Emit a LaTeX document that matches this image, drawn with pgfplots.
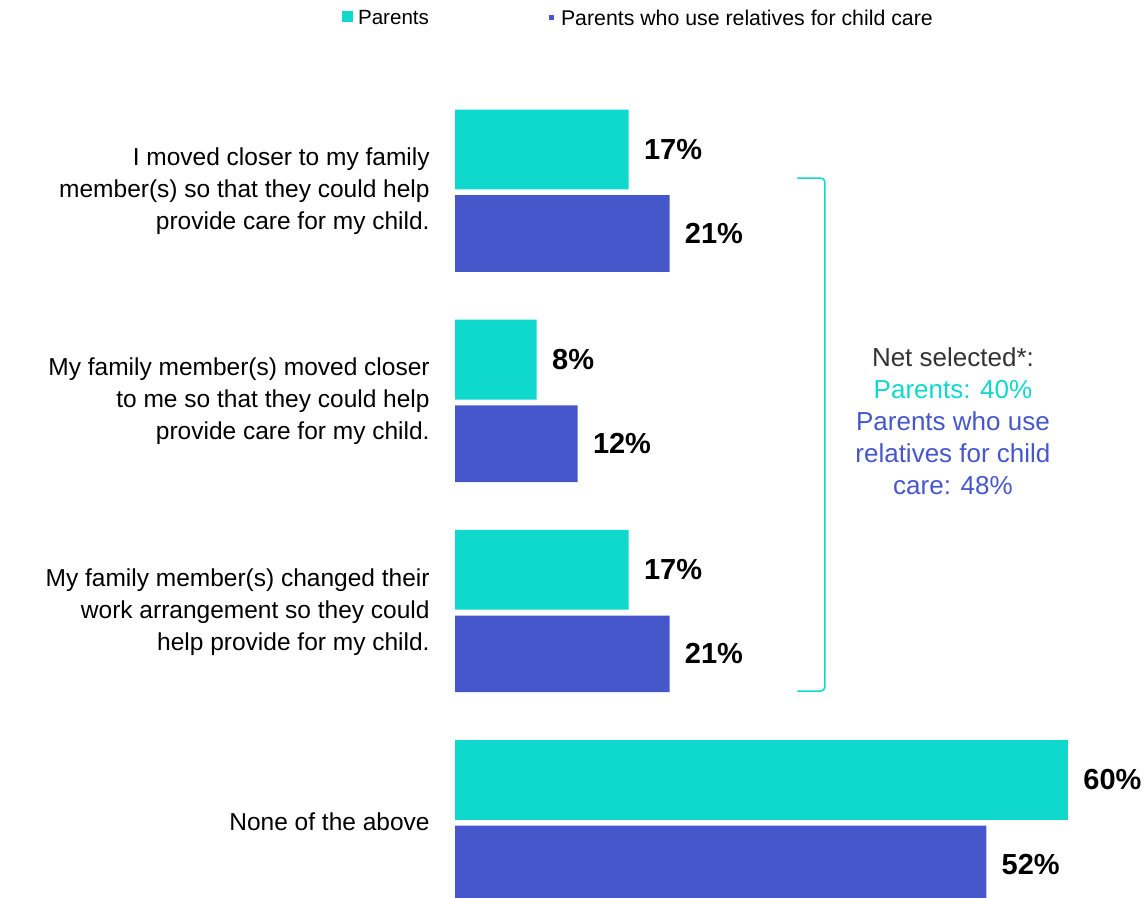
\documentclass[border=0pt]{standalone}
\usepackage{fontspec}
\setmainfont{Liberation Sans}
\usepackage{pgfplots}
\pgfplotsset{compat=1.18}
\definecolor{parteal}{HTML}{0FD8CD}
\definecolor{relblue}{HTML}{4657CC}
\definecolor{netgray}{HTML}{333333}

\begin{document}
\begin{tikzpicture}
\useasboundingbox (0,0) rectangle (572.5pt,449pt);
\begin{axis}[
    at={(227.5pt,405.8pt)}, anchor=north west,
    xbar,
    scale only axis,
    width=306.5pt, height=420.35pt,
    xmin=0, xmax=60, ymin=-0.5, ymax=3.5,
    y dir=reverse,
    clip=false,
    axis line style={draw=none},
    major tick length=0pt,
    xtick=\empty,
    ytick={0,1,2,3},
    yticklabels={{I moved closer to my family\\member(s) so that they could help\\provide care for my child.},
                 {My family member(s) moved closer\\to me so that they could help\\provide care for my child.},
                 {My family member(s) changed their\\work arrangement so they could\\help provide for my child.},
                 {None of the above}},
    yticklabel style={font=\fontsize{12.25pt}{16pt}\selectfont, align=right, inner sep=0pt, xshift=-12.5pt, text=black},
    /pgf/number format/assume math mode=true,
    point meta=x,
    nodes near coords={\pgfmathprintnumber{\pgfplotspointmeta}\%},
    nodes near coords style={anchor=west, inner sep=0pt, xshift=7.5pt,
        font=\fontsize{14.5pt}{17pt}\selectfont\bfseries, text=black},
    legend columns=2,
    legend style={at={(axis description cs:-0.1843,1.0801)}, anchor=west,
        draw=none, fill=none, inner sep=0pt,
        font=\fontsize{10.3pt}{12pt}\selectfont,
        nodes={inner sep=0pt},
        /tikz/every odd column/.append style={column sep=2.5pt},
        /tikz/every even column/.append style={column sep=60pt}},
]
\addplot[fill=parteal, draw=none, bar width=0.38, bar shift=-0.2,
    legend image code/.code={\fill[parteal] (0pt,-1.55pt) rectangle (5.3pt,3.85pt);}]
  coordinates {(17,0) (8,1) (17,2) (60,3)};
\addlegendentry{Parents}
\addplot[fill=relblue, draw=none, bar width=0.365, bar shift=0.2,
    legend image code/.code={\fill[relblue] (0pt,-0.35pt) rectangle (2.5pt,2.15pt); \path (0pt,1pt) -- (3.5pt,1pt);}]
  coordinates {(21,0) (12,1) (21,2) (52,3)};
\addlegendentry{\fontsize{10.65pt}{12pt}\selectfont Parents who use relatives for child care}

\draw[parteal, line width=0.75pt, rounded corners=2pt]
  (axis cs:33.5,-0.064) -- (axis cs:36.2,-0.064) -- (axis cs:36.2,2.377) -- (axis cs:33.5,2.377);
\node[align=center, font=\fontsize{13pt}{16pt}\selectfont] at (axis cs:48.74,1.092)
  {\color{netgray}Net selected*:\\\color{parteal}Parents: 40\%\\\color{relblue}Parents who use\\\color{relblue}relatives for child\\\color{relblue}care: 48\%};
\end{axis}
\end{tikzpicture}
\end{document}
